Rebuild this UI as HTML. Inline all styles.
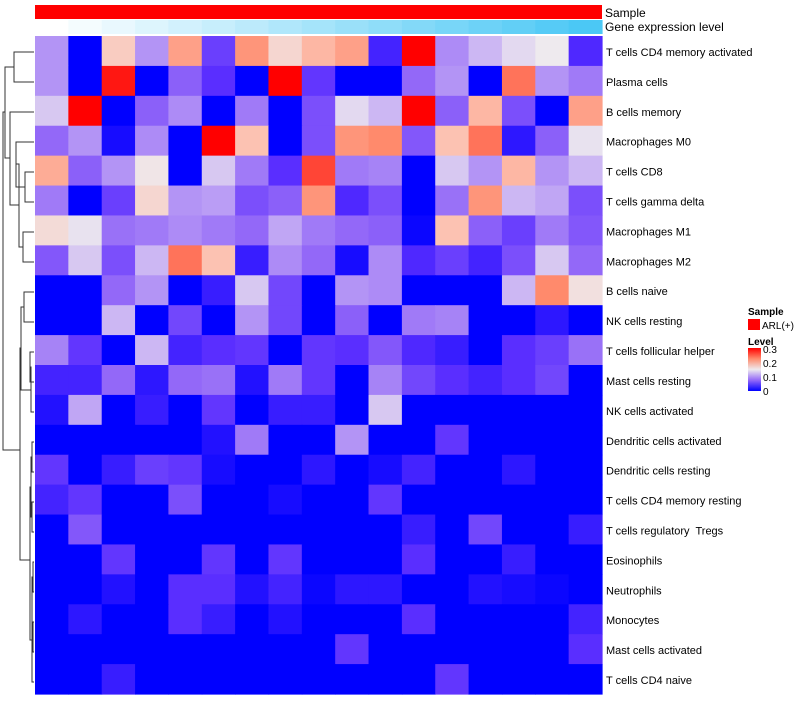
<!DOCTYPE html>
<html><head><meta charset="utf-8"><style>
body{margin:0;background:#fff;font-family:"Liberation Sans",Arial,sans-serif;}
svg text{font-family:"Liberation Sans",Arial,sans-serif;white-space:pre;}
</style></head><body>
<svg id="chart" width="800" height="700" xmlns="http://www.w3.org/2000/svg" xml:space="preserve">
<defs>
<linearGradient id="lvl" x1="0" y1="1" x2="0" y2="0">
<stop offset="0" stop-color="#0000ff"/><stop offset="0.25" stop-color="#9368f8"/><stop offset="0.5" stop-color="#eeeaee"/><stop offset="0.75" stop-color="#ff8a6c"/><stop offset="1" stop-color="#ff0000"/>
</linearGradient>
</defs>
<g id="dendro" stroke="#333" fill="none" stroke-width="1">
<path d="M34,52H14V82H34"/>
<path d="M34,172H25V202H25H34"/>
<path d="M34,142H16V187H25"/>
<path d="M34,232H23V262H34"/>
<path d="M16,164H19V247H23"/>
<path d="M34,112H10V205H19"/>
<path d="M14,67H5V158H10"/>
<path d="M34,292H24V322H34"/>
<path d="M34,352H30V382H34"/>
<path d="M34,412H31V367H30"/>
<path d="M24,307H21V390H31"/>
<path d="M34,442H32V472H34"/>
<path d="M34,502H32V532H34"/>
<path d="M34,562H33V592H34"/>
<path d="M34,622H33V652H34"/>
<path d="M33,577H32V637H33"/>
<path d="M34,682H32V607H32"/>
<path d="M32,457H31V517H32"/>
<path d="M31,487H30V640H32"/>
<path d="M21,348H20V560H30"/>
<path d="M5,112H3V450H20"/>
</g>
<g id="cells"></g>
<g id="annot"></g>
<g id="labels"></g>
<text x="605" y="17" font-size="12" fill="#000">Sample</text>
<text x="605" y="31" font-size="12" fill="#000">Gene expression level</text>
<g>
<text x="748" y="315" font-size="10" font-weight="bold">Sample</text>
<rect x="748" y="319" width="12" height="11" fill="#ff0000"/>
<text x="762" y="329" font-size="10">ARL(+)</text>
<text x="748" y="345" font-size="10" font-weight="bold">Level</text>
<rect x="748" y="348" width="13" height="43" fill="url(#lvl)"/>
<text x="763" y="353" font-size="10">0.3</text>
<text x="763" y="367" font-size="10">0.2</text>
<text x="763" y="381" font-size="10">0.1</text>
<text x="763" y="395" font-size="10">0</text>
</g>
</svg>
<script>
const rowNames=["T cells CD4 memory activated","Plasma cells","B cells memory","Macrophages M0","T cells CD8","T cells gamma delta","Macrophages M1","Macrophages M2","B cells naive","NK cells resting","T cells follicular helper","Mast cells resting","NK cells activated","Dendritic cells activated","Dendritic cells resting","T cells CD4 memory resting","T cells regulatory  Tregs","Eosinophils","Neutrophils","Monocytes","Mast cells activated","T cells CD4 naive"];
const values=[
[0.1,0,0.18,0.1,0.22,0.05,0.23,0.17,0.2,0.22,0.03,0.3,0.095,0.12,0.14,0.15,0.035],
[0.1,0,0.29,0,0.07,0.04,0,0.3,0.045,0,0,0.075,0.1,0,0.25,0.1,0.085],
[0.13,0.3,0,0.07,0.095,0,0.085,0,0.06,0.14,0.12,0.3,0.07,0.2,0.06,0,0.22],
[0.075,0.1,0.01,0.095,0,0.3,0.19,0,0.06,0.23,0.24,0.065,0.19,0.25,0.02,0.07,0.145],
[0.21,0.07,0.1,0.155,0,0.13,0.085,0.04,0.27,0.085,0.09,0,0.13,0.1,0.2,0.1,0.12],
[0.085,0,0.05,0.17,0.1,0.105,0.06,0.07,0.23,0.035,0.06,0,0.08,0.23,0.12,0.11,0.06],
[0.165,0.145,0.08,0.085,0.095,0.085,0.075,0.11,0.085,0.075,0.07,0.005,0.19,0.07,0.05,0.085,0.065],
[0.065,0.13,0.06,0.12,0.25,0.19,0.025,0.095,0.075,0.01,0.095,0.035,0.05,0.03,0.06,0.13,0.075],
[0,0,0.075,0.1,0,0.025,0.13,0.055,0,0.1,0.095,0,0,0,0.12,0.24,0.16],
[0,0,0.12,0,0.055,0,0.1,0.055,0,0.07,0,0.085,0.09,0,0,0.02,0],
[0.09,0.045,0,0.12,0.03,0.04,0.045,0,0.045,0.04,0.065,0.035,0.025,0,0.04,0.05,0.08],
[0.03,0.03,0.075,0.02,0.075,0.08,0.015,0.085,0.045,0,0.09,0.055,0.04,0.03,0.04,0.055,0],
[0.015,0.11,0,0.025,0,0.045,0,0.025,0.025,0,0.13,0,0,0,0,0,0],
[0,0,0,0,0,0.015,0.085,0,0,0.1,0,0,0.045,0,0,0,0],
[0.045,0,0.025,0.05,0.045,0.01,0,0,0.02,0,0.01,0.03,0,0,0.02,0,0],
[0.03,0.045,0,0,0.06,0,0,0.01,0,0,0.045,0,0,0,0,0,0],
[0,0.065,0,0,0,0,0,0,0,0,0,0.025,0,0.055,0,0,0.025],
[0,0,0.045,0,0,0.045,0,0.045,0,0,0,0.04,0,0,0.025,0,0],
[0,0,0.015,0,0.04,0.04,0.015,0.03,0.005,0.02,0.02,0,0,0.015,0.01,0.005,0],
[0,0.02,0,0,0.04,0.025,0,0.015,0,0,0,0.04,0,0,0,0,0.03],
[0,0,0,0,0,0,0,0,0,0.045,0,0,0,0,0,0,0.04],
[0,0,0.025,0,0,0,0,0,0,0,0,0,0.045,0,0,0,0]
];
const geneLevel=[0,1,2,3,4,5,6,7,8,9,10,11,12,13,14,15,16];
const X0=35,X1=602,Y0=36,Y1=694;
const nC=values[0].length,nR=values.length;
const cw=(X1-X0)/nC,rh=(Y1-Y0)/nR;
const xPos=c=>X0+c*cw, yPos=r=>Y0+r*rh;
const stops=[[0,[0,0,255]],[0.04,[90,46,255]],[0.075,[147,104,248]],[0.11,[192,166,244]],[0.15,[238,234,238]],[0.19,[252,194,178]],[0.24,[255,138,108]],[0.3,[255,0,0]]];
function color(v){v=Math.max(0,Math.min(0.3,v));for(let i=1;i<stops.length;i++){if(v<=stops[i][0]){const a=stops[i-1],b=stops[i],t=(v-a[0])/(b[0]-a[0]);return 'rgb('+a[1].map((x,k)=>Math.round(x+(b[1][k]-x)*t)).join(',')+')';}}return 'rgb(255,0,0)';}
const NS="http://www.w3.org/2000/svg";
const cells=document.getElementById('cells');
values.forEach((row,r)=>row.forEach((v,c)=>{
 const el=document.createElementNS(NS,'rect');
 el.setAttribute('x',xPos(c));el.setAttribute('y',yPos(r));
 el.setAttribute('width',cw+0.6);el.setAttribute('height',rh+0.6);
 el.setAttribute('fill',color(v));
 
 
 cells.appendChild(el);
}));
const labels=document.getElementById('labels');
rowNames.forEach((n,r)=>{
 const t=document.createElementNS(NS,'text');
 t.setAttribute('x',606);t.setAttribute('y',yPos(r)+rh/2+5);
 t.setAttribute('font-size','11');t.textContent=n;
 
 
 labels.appendChild(t);
});
const annot=document.getElementById('annot');
const s=document.createElementNS(NS,'rect');
s.setAttribute('x',X0);s.setAttribute('y',5);s.setAttribute('width',X1-X0);s.setAttribute('height',14);s.setAttribute('fill','#ff0000');


annot.appendChild(s);
const gmax=Math.max(...geneLevel);
geneLevel.forEach((g,c)=>{
 const t=g/gmax;
 const el=document.createElementNS(NS,'rect');
 el.setAttribute('x',xPos(c));el.setAttribute('y',20);el.setAttribute('width',cw+0.6);el.setAttribute('height',14);
 el.setAttribute('fill','rgb('+Math.round(255-(255-75)*t)+','+Math.round(255-(255-200)*t)+','+Math.round(255-(255-245)*t)+')');
 
 
 annot.appendChild(el);
});
</script>
</body></html>
